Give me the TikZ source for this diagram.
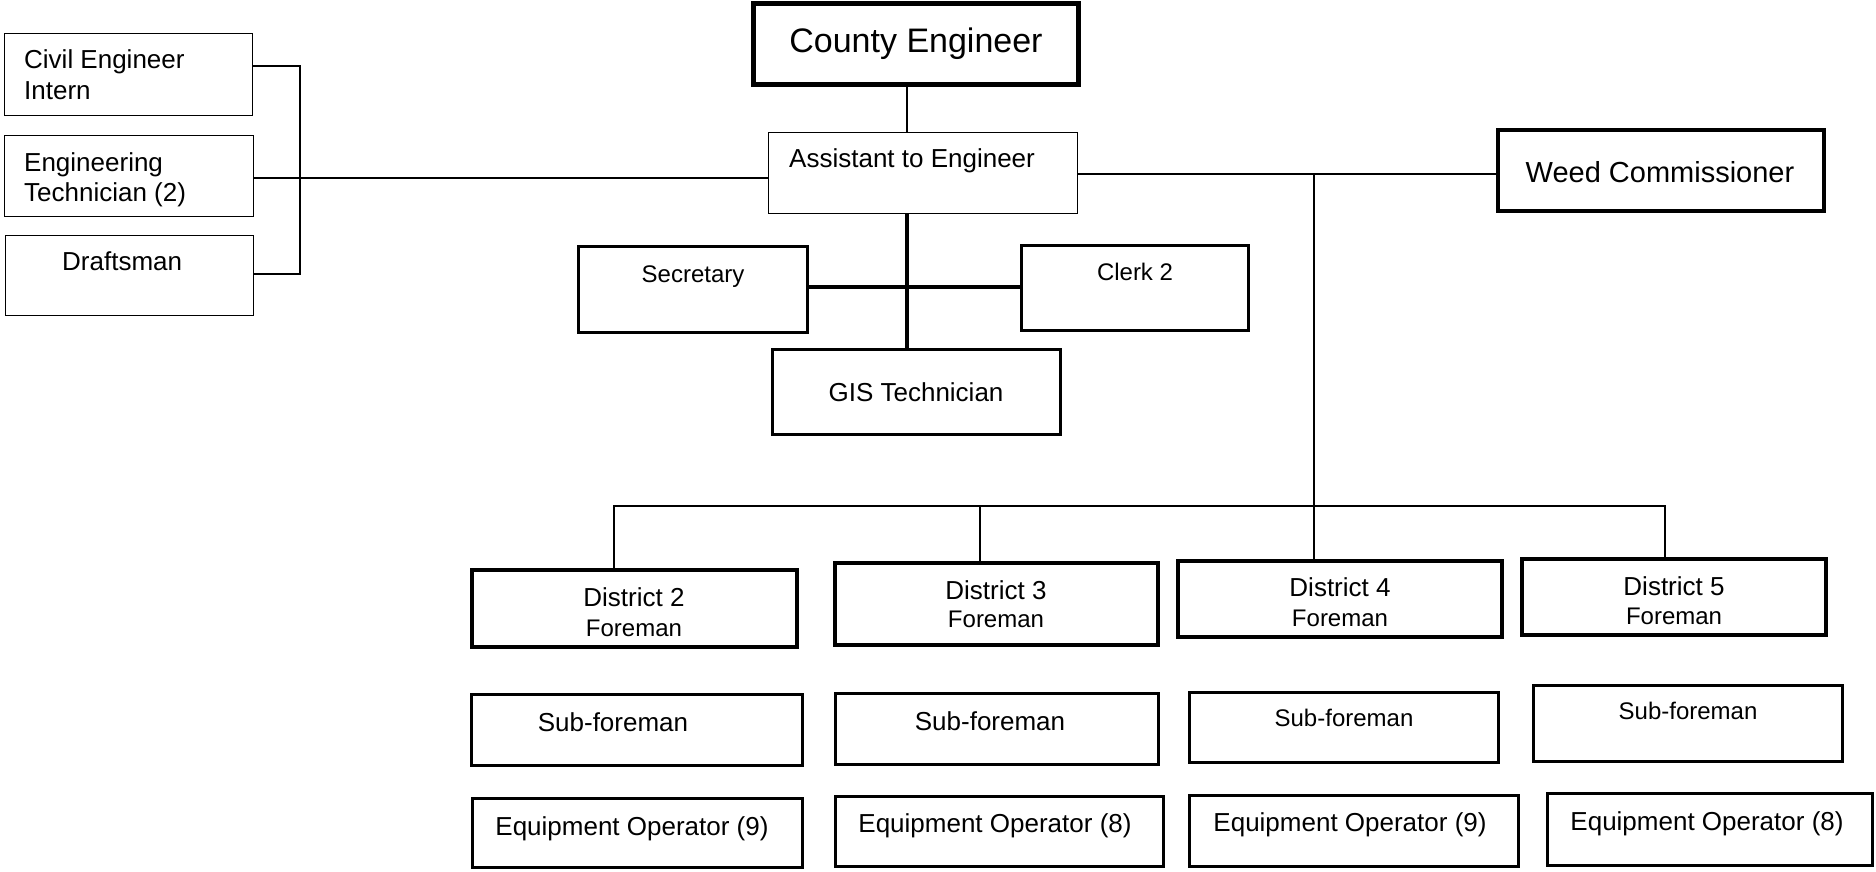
\documentclass[tikz,border=0pt]{standalone}
\usepackage{fontspec}
\setmainfont{Liberation Sans}
\tikzset{
  orgbox/.style={draw=black, rectangle, inner sep=0pt, outer sep=0pt},
  thinbox/.style={orgbox, line width=1.8pt},
  midbox/.style={orgbox, line width=3.4pt},
  boldbox/.style={orgbox, line width=4pt},
  headbox/.style={orgbox, line width=5.5pt},
  lbl/.style={inner sep=0pt, anchor=base, font=\fontsize{26}{30}\selectfont},
  lbls/.style={lbl, font=\fontsize{24}{28}\selectfont},
  link/.style={line width=1.8pt},
  boldlink/.style={line width=3.4pt},
}
% #1 style, #2 name, #3 #4 top-left corner, #5 #6 bottom-right corner (outer edges)
\newcommand\orgrect[6]{%
  \node[#1, minimum width={#5-#3-3}, minimum height={#6-#4-3}] (#2) at ({(#3+#5)/2},{(#4+#6)/2}) {};}
\begin{document}
\begin{tikzpicture}[x=1pt,y=-1pt]
\fill[white] (0,0) rectangle (1876,871);
\useasboundingbox (0,0) rectangle (1876,871);

% engineering staff on the left
\orgrect{thinbox}{civ}{3}{32}{254}{117}
\orgrect{thinbox}{eng}{3}{134}{255}{218}
\orgrect{thinbox}{dra}{4}{234}{255}{317}

% head office
\orgrect{headbox}{ce}{752}{2}{1080}{86}
\orgrect{thinbox}{asst}{767}{131}{1079}{215}
\orgrect{boldbox}{weed}{1496}{128}{1825}{212}
\orgrect{midbox}{sec}{577}{245}{809}{334}
\orgrect{midbox}{clk}{1020}{244}{1250}{332}
\orgrect{midbox}{gis}{771}{348}{1062}{436}

% district foremen
\orgrect{boldbox}{d2}{470}{568}{798}{648}
\orgrect{boldbox}{d3}{833}{561}{1159}{646}
\orgrect{boldbox}{d4}{1176}{559}{1503}{638}
\orgrect{boldbox}{d5}{1520}{557}{1827}{636}

% sub-foremen
\orgrect{midbox}{s2}{470}{693}{804}{767}
\orgrect{midbox}{s3}{834}{692}{1160}{766}
\orgrect{midbox}{s4}{1188}{691}{1500}{764}
\orgrect{midbox}{s5}{1532}{684}{1844}{763}

% equipment operators
\orgrect{midbox}{e2}{471}{797}{804}{869}
\orgrect{midbox}{e3}{834}{795}{1165}{868}
\orgrect{midbox}{e4}{1188}{794}{1520}{868}
\orgrect{midbox}{e5}{1546}{792}{1874}{867}

% labels
\node[lbl, anchor=base west] (civ-t1) at (24,68) {Civil Engineer};
\node[lbl, anchor=base west] (civ-t2) at (24,99) {Intern};
\node[lbl, anchor=base west] (eng-t1) at (24,171) {Engineering};
\node[lbl, anchor=base west] (eng-t2) at (24,201) {Technician (2)};
\node[lbl, anchor=base west] (dra-t) at (62,270) {Draftsman};
\node[lbl, font=\fontsize{34}{40}\selectfont] (ce-t) at (916,52) {County Engineer};
\node[lbl, anchor=base west] (asst-t) at (789,167) {Assistant to Engineer};
\node[lbl, font=\fontsize{29}{34}\selectfont] (weed-t) at (1660,182) {Weed Commissioner};
\node[lbls] (sec-t) at (693,282) {Secretary};
\node[lbls] (clk-t) at (1135,280) {Clerk 2};
\node[lbl] (gis-t) at (916,401) {GIS Technician};

\node[lbl] (d2-t1) at (634,606) {District 2};
\node[lbls] (d2-t2) at (634,636) {Foreman};
\node[lbl] (d3-t1) at (996,599) {District 3};
\node[lbls] (d3-t2) at (996,627) {Foreman};
\node[lbl] (d4-t1) at (1340,596) {District 4};
\node[lbls] (d4-t2) at (1340,626) {Foreman};
\node[lbl] (d5-t1) at (1674,595) {District 5};
\node[lbls] (d5-t2) at (1674,624) {Foreman};

\node[lbl] (s2-t) at (613,731) {Sub-foreman};
\node[lbl] (s3-t) at (990,730) {Sub-foreman};
\node[lbls] (s4-t) at (1344,726) {Sub-foreman};
\node[lbls] (s5-t) at (1688,719) {Sub-foreman};

\node[lbl] (e2-t) at (632,835) {Equipment Operator (9)};
\node[lbl] (e3-t) at (995,832) {Equipment Operator (8)};
\node[lbl] (e4-t) at (1350,831) {Equipment Operator (9)};
\node[lbl] (e5-t) at (1707,830) {Equipment Operator (8)};

% connectors
\coordinate (spine) at (907,0);
\draw[link] (ce.south -| spine) -- (asst.north -| spine);
\draw[boldlink] (asst.south -| spine) -- (gis.north -| spine);
\coordinate (midrow) at (0,287);
\draw[boldlink] (sec.east |- midrow) -- (clk.west |- midrow);

\coordinate (brkT) at (300,66);
\coordinate (brkB) at (300,274);
\draw[link] (civ.east |- brkT) -- (brkT) -- (brkB) -- (dra.east |- brkB);
\coordinate (lrow) at (0,178);
\draw[link] (eng.east |- lrow) -- (asst.west |- lrow);
\coordinate (rrow) at (0,174);
\draw[link] (asst.east |- rrow) -- (weed.west |- rrow);

\coordinate (drop) at (1314,174);
\draw[link] (drop) -- (d4.north -| drop);
\coordinate (busL) at (614,506);
\coordinate (busR) at (1665,506);
\draw[link] (d2.north -| busL) -- (busL) -- (busR) -- (d5.north -| busR);
\coordinate (bus3) at (980,506);
\draw[link] (bus3) -- (d3.north -| bus3);
\end{tikzpicture}
\end{document}
